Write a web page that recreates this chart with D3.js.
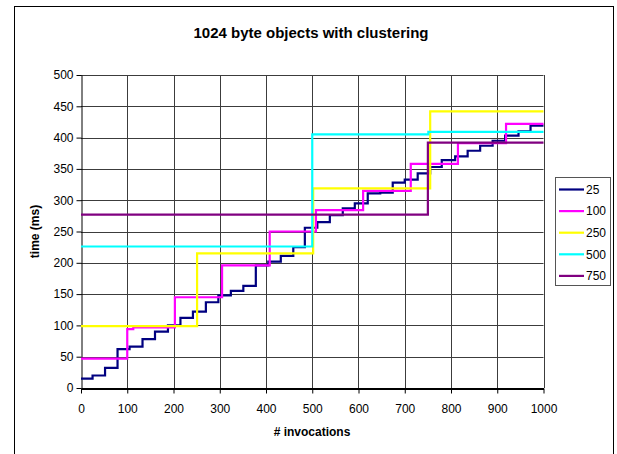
<!DOCTYPE html>
<html>
<head>
<meta charset="utf-8">
<script src="https://cdn.jsdelivr.net/npm/d3@7"></script>
<style>
  html, body { margin: 0; padding: 0; background: #fff; }
  svg { display: block; font-family: "Liberation Sans", Arial, sans-serif; }
</style>
</head>
<body>
<svg id="chart" width="617" height="454"></svg>
<script>
// Step data: each series holds the invocation counts where the time changes
// and the time (ms) reached at that point.
const seriesNames = ["25", "100", "250", "500", "750"];
const seriesColors = ["#000080", "#ff00ff", "#ffff00", "#00ffff", "#800080"];

const x25 = [0, 25, 52, 79, 105, 133, 160, 188, 215, 242, 270, 297, 324, 351, 378, 405, 432, 459, 484, 511, 538, 566, 592, 620, 647, 674, 700, 728, 755, 780, 809, 836, 863, 890, 917, 946, 972, 1000];
const y25 = [15, 20, 32, 62, 66, 78, 90, 100, 112, 122, 137, 148, 155, 163, 196, 202, 211, 225, 256, 265, 276, 287, 295, 311, 312, 328, 333, 343, 353, 364, 370, 379, 387, 395, 403, 410, 419, 419];

const x100 = [0, 100, 113, 203, 305, 408, 508, 610, 713, 815, 919, 1000];
const y100 = [47, 94, 97, 145, 196, 250, 284, 315, 358, 391, 422, 422];

const x250 = [0, 251, 502, 755, 1000];
const y250 = [99, 215, 319, 442, 442];

const x500 = [0, 500, 751, 1000];
const y500 = [226, 405, 409, 409];

const x750 = [0, 750, 1000];
const y750 = [277, 392, 392];

const xTicks = [0, 100, 200, 300, 400, 500, 600, 700, 800, 900, 1000];
const yTicks = [0, 50, 100, 150, 200, 250, 300, 350, 400, 450, 500];

const seriesX = [x25, x100, x250, x500, x750];
const seriesY = [y25, y100, y250, y500, y750];

const svg = d3.select("#chart");

// Outer chart frame
svg.append("rect")
  .attr("x", 14.5).attr("y", 6.5)
  .attr("width", 599).attr("height", 460)
  .attr("fill", "#fff").attr("stroke", "#000").attr("stroke-width", 1);

const x = d3.scaleLinear().domain([0, 1000]).range([81, 543.5]);
const y = d3.scaleLinear().domain([0, 500]).range([388, 75]);

// Grid
const grid = svg.append("g").attr("stroke", "#3c3c3c").attr("stroke-width", 1);
grid.selectAll("line.v").data(xTicks.slice(1)).join("line")
  .attr("class", "v")
  .attr("x1", d => Math.round(x(d)) + 0.5).attr("x2", d => Math.round(x(d)) + 0.5)
  .attr("y1", y(500)).attr("y2", y(0));
grid.selectAll("line.h").data(yTicks.slice(1)).join("line")
  .attr("class", "h")
  .attr("y1", d => Math.round(y(d)) + 0.5).attr("y2", d => Math.round(y(d)) + 0.5)
  .attr("x1", x(0)).attr("x2", x(1000));

// Axes
const fmt = d3.format("d");
const yAxis = svg.append("g")
  .attr("transform", `translate(${Math.round(x(0)) + 0.5},0)`)
  .call(d3.axisLeft(y).tickValues(yTicks).tickFormat(fmt).tickSize(5).tickSizeOuter(0).tickPadding(3));
const xAxis = svg.append("g")
  .attr("transform", `translate(0,${Math.round(y(0)) + 0.5})`)
  .call(d3.axisBottom(x).tickValues(xTicks).tickFormat(fmt).tickSize(5).tickSizeOuter(0).tickPadding(11));

[yAxis, xAxis].forEach(g => {
  g.select(".domain").attr("stroke", "#000");
  g.selectAll(".tick line").attr("stroke", "#000");
  g.selectAll(".tick text")
    .attr("fill", "#000")
    .style("font-family", "'Liberation Sans', Arial, sans-serif")
    .style("font-size", "12px");
});
xAxis.select(".domain").attr("stroke-width", 2);

// Series lines, drawn in legend order
const line = d3.line()
  .x(d => x(d[0]))
  .y(d => y(d[1]))
  .curve(d3.curveStepAfter);

seriesNames.forEach((name, i) => {
  const pts = seriesX[i].map((v, j) => [v, seriesY[i][j]]);
  svg.append("path")
    .datum(pts)
    .attr("fill", "none")
    .attr("stroke", seriesColors[i])
    .attr("stroke-width", 2.2)
    .attr("d", line);
});

// Titles
svg.append("text")
  .attr("x", 311).attr("y", 37.5)
  .attr("text-anchor", "middle")
  .style("font-weight", "bold").style("font-size", "15px")
  .text("1024 byte objects with clustering");

svg.append("text")
  .attr("transform", "translate(39,231.5) rotate(-90)")
  .attr("text-anchor", "middle")
  .style("font-weight", "bold").style("font-size", "12px")
  .text("time (ms)");

svg.append("text")
  .attr("x", 312).attr("y", 436)
  .attr("text-anchor", "middle")
  .style("font-weight", "bold").style("font-size", "12px")
  .text("# invocations");

// Legend
const legend = svg.append("g");
legend.append("rect")
  .attr("x", 555.5).attr("y", 177.5)
  .attr("width", 55).attr("height", 108)
  .attr("fill", "#fff").attr("stroke", "#555").attr("stroke-width", 1);

const items = legend.selectAll("g.item").data(seriesNames).join("g")
  .attr("class", "item")
  .attr("transform", (d, i) => `translate(0,${189.5 + i * 21.6})`);
items.append("line")
  .attr("x1", 559).attr("x2", 584)
  .attr("stroke", (d, i) => seriesColors[i])
  .attr("stroke-width", 2.2);
items.append("text")
  .attr("x", 586).attr("dy", "0.35em")
  .style("font-size", "12px")
  .text(d => d);
</script>
</body>
</html>
